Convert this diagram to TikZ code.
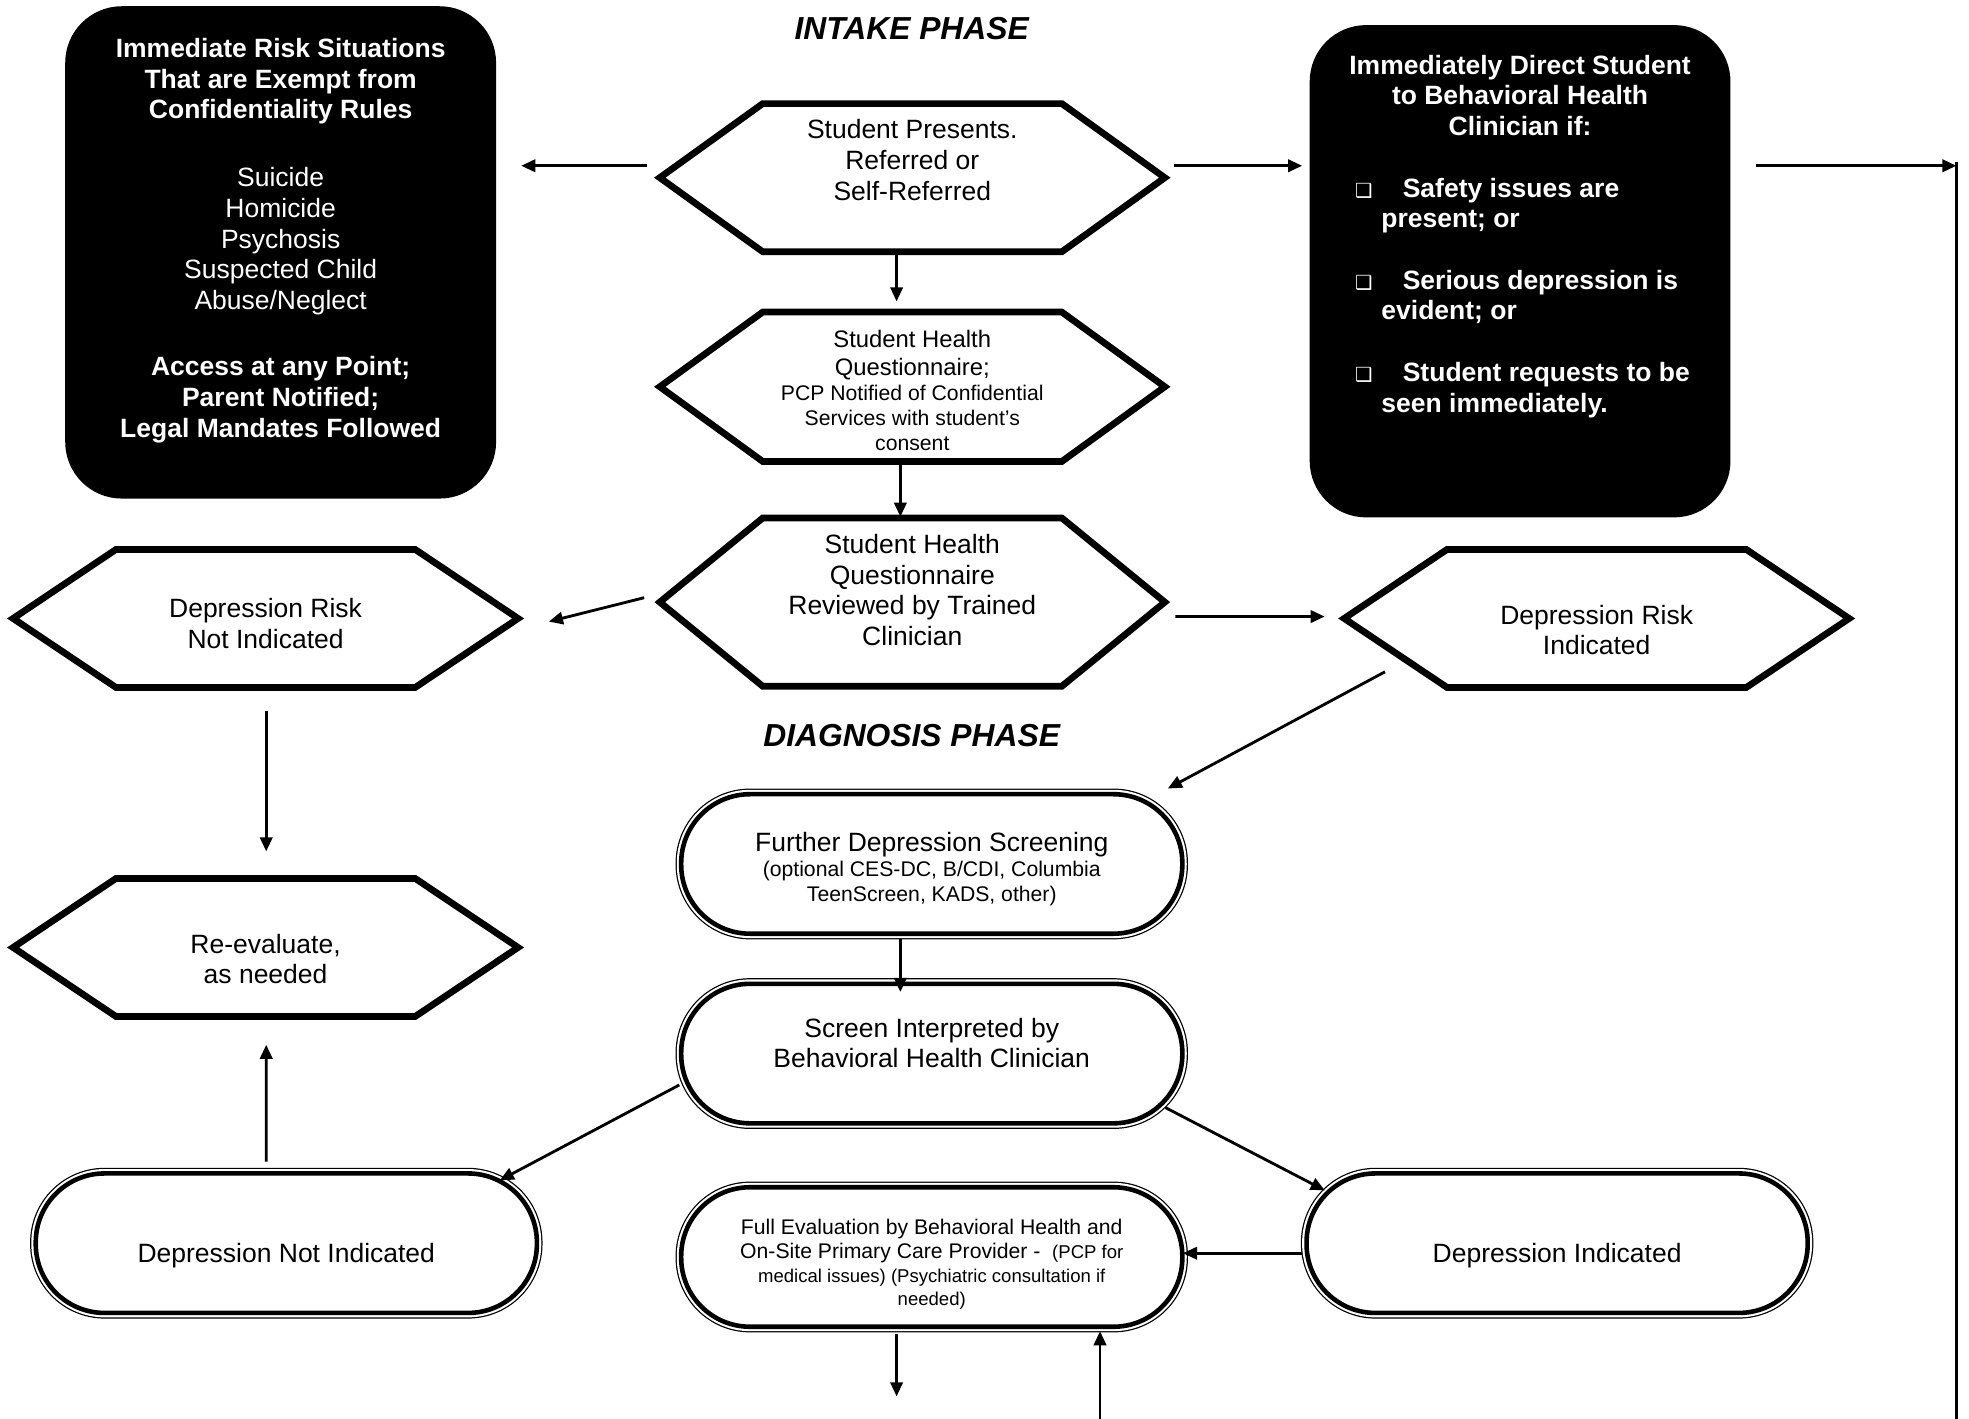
\documentclass[tikz,border=0pt]{standalone}
\usepackage{fontspec}
\setmainfont{Liberation Sans}
\newfontfamily\bulletfont{DejaVu Sans}
\usepackage{tikz}
\usetikzlibrary{arrows.meta,calc,positioning}
\setlength{\parindent}{0pt}
\newcommand{\fifteen}{\fontsize{15}{17.4}\selectfont}
\newcommand{\smalltxt}{\fontsize{12}{14.2}\selectfont}
\newcommand{\bul}{{\bulletfont\fontsize{11}{11}\selectfont ❑}}
\newcommand{\up}[1]{\rule[-#1]{0pt}{1pt}}
\newcommand{\down}[1]{\rule{0pt}{#1}}
\newcommand{\drawHex}[2]{
    \draw[hexline] (#1.west) -- ($(#1.north west)+(#2,0)$) -- ($(#1.north east)+(-#2,0)$)
        -- (#1.east) -- ($(#1.south east)+(-#2,0)$) -- ($(#1.south west)+(#2,0)$) -- cycle;
}

\begin{document}
\begin{tikzpicture}[x=0.025cm,y=-0.025cm,
    hexnode/.style={minimum width=286pt,inner sep=0pt,outer sep=0pt,text width=263pt,align=flush center,font=\fifteen},
    hexline/.style={line width=3.8pt,line join=miter},
    blkbox/.style={fill=black,text=white,rounded corners=32pt,inner sep=0pt,outer sep=0pt,font=\fifteen},
    stadium/.style={draw,fill=white,line width=2.6pt,rounded corners=39pt,
        preaction={draw,line width=6.4pt},preaction={draw=white,line width=5pt},
        minimum width=283.8pt,minimum height=79pt,inner sep=0pt,outer sep=0pt,
        text width=270pt,align=flush center,font=\fifteen},
    arr/.style={line width=1.6pt,-{Triangle[length=8pt,width=7pt]}},
    phase/.style={font=\fontsize{18}{21}\selectfont\bfseries\itshape}]

    \useasboundingbox (0,0) rectangle (1568,1130);

    % --- Intake phase ---
    \node[phase] (intake) at (726,23) {INTAKE PHASE};

    \node[blkbox,minimum width=244pt,minimum height=278.8pt,text width=230pt,align=flush center] (exempt) at (223.5,201) {
        {\bfseries Immediate Risk Situations\\ That are Exempt from\\ Confidentiality Rules\par}
        \vspace{21pt}
        Suicide\\ Homicide\\ Psychosis\\ Suspected Child\\ Abuse/Neglect\par
        \vspace{20pt}
        {\bfseries Access at any Point;\\ Parent Notified;\\ Legal Mandates Followed\par}
        \vspace*{13.6pt}};

    \node[blkbox,minimum width=238.3pt,minimum height=278.8pt,text width=206pt,align=flush left] (direct) at (1210.5,216) {\bfseries
        {\centering Immediately Direct Student\\ to Behavioral Health\\ Clinician if:\par}
        \vspace{17.4pt}
        \hspace*{9.6pt}\makebox[27pt][l]{\bul}Safety issues are\\ \hspace*{24.5pt}present; or\par
        \vspace{17.4pt}
        \hspace*{9.6pt}\makebox[27pt][l]{\bul}Serious depression is\\ \hspace*{24.5pt}evident; or\par
        \vspace{17.4pt}
        \hspace*{9.6pt}\makebox[27pt][l]{\bul}Student requests to be\\ \hspace*{24.5pt}seen immediately.\par
        \vspace*{39.6pt}};

    \node[hexnode,minimum height=83.9pt] (start) at (726.5,141.5) {Student Presents.\\ Referred or\\ Self-Referred\up{20pt}};
    \node[hexnode,minimum height=84.6pt] (shq) at (726.5,308) {
        {\fontsize{13.5}{15.6}\selectfont \down{14pt}Student Health\\ Questionnaire;\par}
        {\smalltxt PCP Notified of Confidential\\ Services with student's\\ consent\par}};
    \node[hexnode,minimum height=95.3pt] (review) at (726.5,479.5) {Student Health\\ Questionnaire\\ Reviewed by Trained\\ Clinician\up{14pt}};
    \node[hexnode,minimum height=78.2pt] (notrisk) at (211.5,492.5) {\down{17pt}Depression Risk\\ Not Indicated};
    \node[hexnode,minimum height=78.2pt] (risk) at (1271.5,492.5) {\down{24pt}Depression Risk\\ Indicated};
    \node[hexnode,minimum height=78.2pt] (reeval) at (211.5,754.5) {\down{24pt}Re-evaluate,\\ as needed};

    \drawHex{start}{82}
    \drawHex{shq}{82}
    \drawHex{review}{82}
    \drawHex{notrisk}{82}
    \drawHex{risk}{82}
    \drawHex{reeval}{82}

    \coordinate (rail) at (1558,132);
    \coordinate (railend) at (1558,1130);

    % Intake arrows
    \draw[arr] ($(start.west)+(-10,-9.5)$) -- ($(exempt.east)+(20,-69)$);
    \draw[arr] ($(start.east)+(7.5,-9.5)$) -- ($(direct.west)+(-6,-84)$);
    \draw[arr] ($(direct.east)+(20,-84)$) -- (rail);
    \draw[line width=1.6pt] ($(rail)+(0,-3)$) -- (railend);
    \draw[arr] ($(start.south)+(-12.5,2.5)$) -- ($(shq.north)+(-12.5,-8.5)$);
    \draw[arr] ($(shq.south)+(-9.5,2.5)$) -- ($(review.north)+(-9.5,-1)$);
    \draw[arr] ($(review.west)+(-12.5,-3.5)$) -- ($(notrisk.east)+(24.5,2.5)$);
    \draw[arr] ($(review.east)+(8.5,11.5)$) -- ($(risk.west)+(-15.5,-1.5)$);

    % --- Diagnosis phase ---
    \node[phase] (diagnosis) at (726,586) {DIAGNOSIS PHASE};

    \node[stadium] (screen) at (742,688) {\down{17pt}Further Depression Screening\par
        {\smalltxt (optional CES-DC, B/CDI, Columbia\\ TeenScreen, KADS, other)\par}};
    \node[stadium] (interp) at (742,839) {Screen Interpreted by\\ Behavioral Health Clinician\up{12pt}};
    \node[stadium] (notind) at (228,990) {\down{25pt}Depression Not Indicated};
    \node[stadium] (depind) at (1240,990) {\down{25pt}Depression Indicated};
    \node[stadium,font=\fontsize{12}{13.5}\selectfont] (fulleval) at (742,1001) {\down{17pt}Full Evaluation by Behavioral Health and\\
        On-Site Primary Care Provider -~ {\fontsize{10.5}{13.5}\selectfont (PCP for\\ medical issues) (Psychiatric consultation if\\ needed)}};

    \coordinate (evalout) at (714,1112);
    \coordinate (evalin) at (876,1130);

    % Diagnosis arrows
    \draw[arr] ($(risk.south west)+(32.5,-12.5)$) -- ($(screen.north)+(188,-4.5)$);
    \draw[arr] ($(screen.south)+(-25,4.5)$) -- ($(interp.north)+(-25,6.5)$);
    \draw[arr] ($(notrisk.south)+(0.5,18.5)$) -- ($(reeval.north)+(0.5,-21.5)$);
    \draw[arr] ($(notind.north)+(-16,-9.5)$) -- ($(reeval.south)+(0.5,22.5)$);
    \draw[arr] ($(interp.west)+(-1.5,25)$) -- ($(notind.north)+(170,5.5)$);
    \draw[arr] ($(interp.east)+(-13.5,43)$) -- ($(depind.north)+(-185,13.5)$);
    \draw[arr] ($(depind.west)+(-3.5,8)$) -- ($(fulleval.east)+(0.5,-3)$);
    \draw[arr] ($(fulleval.south)+(-28,5.5)$) -- (evalout);
    \draw[arr] (evalin) -- ($(fulleval.south)+(134,3.5)$);

\end{tikzpicture}
\end{document}
